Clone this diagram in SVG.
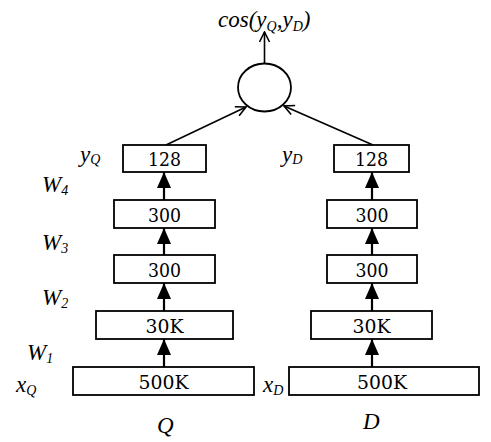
<svg xmlns="http://www.w3.org/2000/svg" width="491" height="442" viewBox="0 0 491 442">
<defs>
<style>
.box{fill:#fff;stroke:#000;stroke-width:1.8}
.num{font-family:"DejaVu Serif","Liberation Serif",serif;font-size:19px;fill:#000;text-anchor:middle}
.lab{font-family:"Liberation Serif","Times New Roman",serif;font-style:italic;font-size:23px;fill:#000}
.sub{font-size:14px}
.ln{stroke:#000;stroke-width:1.6;fill:none}
.thick{stroke:#000;stroke-width:2.2;fill:none}
</style>
<marker id="tri" viewBox="0 0 16 14" refX="16" refY="7" markerWidth="16" markerHeight="14" markerUnits="userSpaceOnUse" orient="auto">
<path d="M0,0 L16,7 L0,14 Z" fill="#000"/>
</marker>
<marker id="open" viewBox="0 0 12 12" refX="11" refY="6" markerWidth="12" markerHeight="12" markerUnits="userSpaceOnUse" orient="auto">
<path d="M1,1 L11,6 L1,11" fill="none" stroke="#000" stroke-width="1.6"/>
</marker>
</defs>
<rect width="491" height="442" fill="#fff"/>

<g id="connectors">
<line class="thick" x1="164" y1="200" x2="164" y2="172" marker-end="url(#tri)"/>
<line class="thick" x1="164" y1="255" x2="164" y2="228" marker-end="url(#tri)"/>
<line class="thick" x1="164" y1="311" x2="164" y2="283" marker-end="url(#tri)"/>
<line class="thick" x1="164" y1="367" x2="164" y2="339" marker-end="url(#tri)"/>
<line class="thick" x1="372" y1="200" x2="372" y2="172" marker-end="url(#tri)"/>
<line class="thick" x1="372" y1="255" x2="372" y2="228" marker-end="url(#tri)"/>
<line class="thick" x1="372" y1="311" x2="372" y2="283" marker-end="url(#tri)"/>
<line class="thick" x1="372" y1="367" x2="372" y2="339" marker-end="url(#tri)"/>
<line class="ln" x1="166" y1="145" x2="246" y2="107" marker-end="url(#open)"/>
<line class="ln" x1="373" y1="145" x2="284" y2="106" marker-end="url(#open)"/>
<line class="ln" x1="264.5" y1="63" x2="264.5" y2="32" marker-end="url(#open)"/>
</g>

<g id="cos">
<ellipse cx="264.5" cy="87.5" rx="26.5" ry="24" fill="#fff" stroke="#000" stroke-width="1.8"/>
<text class="lab" x="218" y="27" font-size="20">cos(y<tspan class="sub" dy="4">Q</tspan><tspan dy="-4">,y</tspan><tspan class="sub" dy="4">D</tspan><tspan dy="-4">)</tspan></text>
</g>

<g id="q128"><rect class="box" x="123" y="145" width="83" height="27"/><text class="num" x="164.5" y="166" textLength="33" lengthAdjust="spacingAndGlyphs">128</text></g>
<g id="q300a"><rect class="box" x="114" y="200" width="101" height="28"/><text class="num" x="164.5" y="222" textLength="33" lengthAdjust="spacingAndGlyphs">300</text></g>
<g id="q300b"><rect class="box" x="114" y="255" width="101" height="28"/><text class="num" x="164.5" y="277" textLength="33" lengthAdjust="spacingAndGlyphs">300</text></g>
<g id="q30k"><rect class="box" x="96" y="311" width="137" height="28"/><text class="num" x="164.5" y="333" textLength="38" lengthAdjust="spacingAndGlyphs">30K</text></g>
<g id="q500k"><rect class="box" x="73" y="367" width="181" height="28"/><text class="num" x="163.5" y="389" textLength="50" lengthAdjust="spacingAndGlyphs">500K</text></g>

<g id="d128"><rect class="box" x="334" y="145" width="75" height="27"/><text class="num" x="371.5" y="166" textLength="33" lengthAdjust="spacingAndGlyphs">128</text></g>
<g id="d300a"><rect class="box" x="327" y="200" width="90" height="28"/><text class="num" x="372" y="222" textLength="33" lengthAdjust="spacingAndGlyphs">300</text></g>
<g id="d300b"><rect class="box" x="327" y="255" width="90" height="28"/><text class="num" x="372" y="277" textLength="33" lengthAdjust="spacingAndGlyphs">300</text></g>
<g id="d30k"><rect class="box" x="311" y="311" width="121" height="28"/><text class="num" x="371.5" y="333" textLength="38" lengthAdjust="spacingAndGlyphs">30K</text></g>
<g id="d500k"><rect class="box" x="289" y="367" width="190" height="28"/><text class="num" x="382" y="389" textLength="50" lengthAdjust="spacingAndGlyphs">500K</text></g>

<g id="labels">
<text class="lab" x="80" y="162">y<tspan class="sub" dy="2">Q</tspan></text>
<text class="lab" x="42" y="192">W<tspan class="sub" dy="3">4</tspan></text>
<text class="lab" x="42" y="250">W<tspan class="sub" dy="3">3</tspan></text>
<text class="lab" x="42" y="305">W<tspan class="sub" dy="3">2</tspan></text>
<text class="lab" x="27" y="360">W<tspan class="sub" dy="3">1</tspan></text>
<text class="lab" x="16" y="392">x<tspan class="sub" dy="3">Q</tspan></text>
<text class="lab" x="282" y="162">y<tspan class="sub" dy="2">D</tspan></text>
<text class="lab" x="263" y="392">x<tspan class="sub" dy="3">D</tspan></text>
<text class="lab" x="157" y="433" font-size="19">Q</text>
<text class="lab" x="363" y="429" font-size="19">D</text>
</g>
</svg>
